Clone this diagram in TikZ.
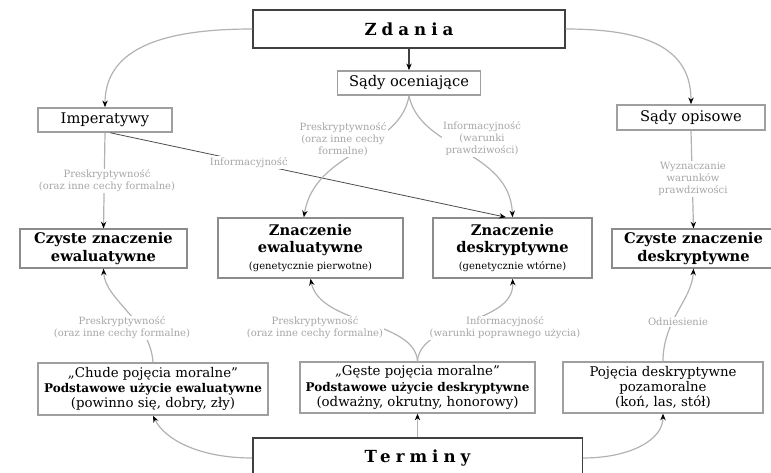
\documentclass[tikz,border=0pt]{standalone}
\usepackage{fontspec}
\setmainfont{DejaVu Serif}
\newfontfamily\spacedfont[LetterSpace=30]{DejaVu Serif}
\usetikzlibrary{arrows.meta}
\begin{document}
\begin{tikzpicture}[x=0.75pt,y=-0.75pt,
 box/.style={draw=gray!75, line width=1.2pt, fill=white, align=center, inner sep=1pt, font=\fontsize{11}{13}\selectfont},
 bbox/.style={box, draw=gray!90, font=\bfseries\fontsize{11}{13}\selectfont},
 big/.style={box, draw=black!75, line width=1pt, font=\spacedfont\bfseries\fontsize{12.5}{15}\selectfont},
 conn/.style={draw=gray!60, line width=0.9pt},
 arr/.style={conn, -{Stealth[length=5pt,width=4pt,color=black]}},
 lab/.style={text=gray!70, font=\fontsize{7.5}{9}\selectfont, align=center, fill=white, inner sep=1pt},
]
\useasboundingbox (0,0) rectangle (771,472);
% boxes
\node[big, minimum width=234pt, minimum height=28.5pt] (zd) at (409,29) {Zdania};
\node[box, minimum width=107pt, minimum height=18pt] (oc) at (409,83) {Sądy oceniające};
\node[box, minimum width=100.5pt, minimum height=18pt] (imp) at (105,120) {Imperatywy};
\node[box, minimum width=111pt, minimum height=18.75pt] (op) at (691,117.5) {Sądy opisowe};
\node[bbox, minimum width=125pt, minimum height=29pt] (cze) at (103.5,248.5) {Czyste znaczenie\\ewaluatywne};
\node[bbox, minimum width=139pt, minimum height=45pt] (zne) at (310.5,248) {Znaczenie\\ewaluatywne\\{\normalfont\fontsize{7.5}{9}\selectfont (genetycznie pierwotne)}};
\node[bbox, minimum width=119pt, minimum height=45pt] (znd) at (512.5,248) {Znaczenie\\deskryptywne\\{\normalfont\fontsize{7.5}{9}\selectfont (genetycznie wtórne)}};
\node[bbox, minimum width=122pt, minimum height=29pt] (czd) at (693.5,248.5) {Czyste znaczenie\\deskryptywne};
\node[box, minimum width=172.5pt, minimum height=39pt, font=\fontsize{10}{11.5}\selectfont] (ch) at (153,389) {„Chude pojęcia moralne”\\{\bfseries\fontsize{9}{11}\selectfont Podstawowe użycie ewaluatywne}\\(powinno się, dobry, zły)};
\node[box, minimum width=176pt, minimum height=38pt, font=\fontsize{10}{11.5}\selectfont] (gs) at (417.5,387.5) {„Gęste pojęcia moralne”\\{\bfseries\fontsize{9}{11}\selectfont Podstawowe użycie deskryptywne}\\(odważny, okrutny, honorowy)};
\node[box, minimum width=150pt, minimum height=38pt, font=\fontsize{10}{11.5}\selectfont] (pd) at (663,387.5) {Pojęcia deskryptywne\\pozamoralne\\(koń, las, stół)};
\node[big, minimum width=247pt, minimum height=30pt] (te) at (417.5,458) {Terminy};
% connectors
\draw[arr] (zd.west) .. controls (170,29) and (105,45) .. (imp.north);
\draw[arr] (zd.east) .. controls (650,29) and (691,50) .. (op.north);
\draw[arr, draw=black!75, line width=1.2pt] (zd.south) -- (oc.north);
\draw[arr] (imp.south) -- (cze.north);
\draw[arr, draw=black!70, line width=0.6pt] ([xshift=4pt]imp.south) -- node[lab, pos=0.35] (l2) {Informacyjność} ([xshift=-5pt]znd.north);
\draw[arr] (oc.south) .. controls (400,150) and (315,150) .. ([xshift=-5pt]zne.north);
\draw[arr] (oc.south) .. controls (420,150) and (510,150) .. (znd.north);
\draw[arr] (op.south) -- (czd.north);
\draw[arr] (ch.north) .. controls (150,320) and (105,300) .. (cze.south);
\draw[arr] (gs.north) .. controls (415,320) and (320,325) .. (zne.south);
\draw[arr] (gs.north) .. controls (420,320) and (515,325) .. (znd.south);
\draw[arr] (pd.north) .. controls (663,320) and (692,300) .. (czd.south);
\draw[arr] (te.north) -- (gs.south);
\draw[arr] (te.west) .. controls (200,458) and (165,440) .. (ch.south);
\draw[arr] (te.east) .. controls (630,458) and (663,440) .. (pd.south);
% labels
\node[lab] (l1) at (107,181) {Preskryptywność\\(oraz inne cechy formalne)};
\node[lab] (l3) at (343,139) {Preskryptywność\\(oraz inne cechy\\formalne)};
\node[lab] (l4) at (482,139) {Informacyjność\\(warunki\\prawdziwości)};
\node[lab] (l5) at (693,179) {Wyznaczanie\\warunków\\prawdziwości};
\node[lab] (l6) at (122,328) {Preskryptywność\\(oraz inne cechy formalne)};
\node[lab] (l7) at (315,328) {Preskryptywność\\(oraz inne cechy formalne)};
\node[lab] (l8) at (505,328) {Informacyjność\\(warunki poprawnego użycia)};
\node[lab] (l9) at (678,322) {Odniesienie};
\end{tikzpicture}
\end{document}
